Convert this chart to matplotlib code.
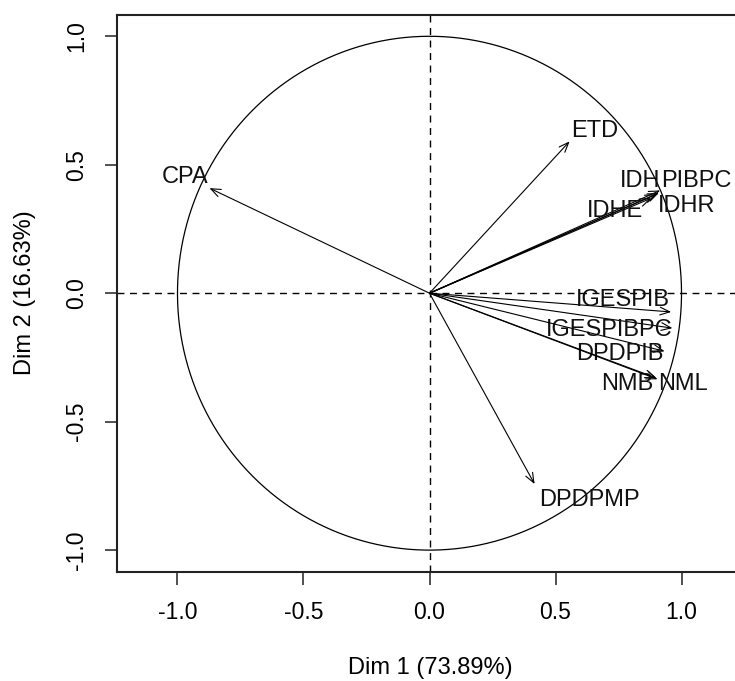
import numpy as np
import matplotlib
matplotlib.use("Agg")
import matplotlib.pyplot as plt

# Data: variable coordinates on Dim 1 / Dim 2
variables = ["CPA", "ETD", "IDH", "PIBPC", "IDHR", "IDHE",
             "IGESPIB", "IGESPIBPC", "DPDPIB", "NMB", "NML", "DPDPMP"]
dim1 = [-0.873, 0.556, 0.900, 0.915, 0.910, 0.880,
        0.959, 0.964, 0.933, 0.900, 0.905, 0.417]
dim2 = [0.409, 0.591, 0.385, 0.400, 0.390, 0.370,
        -0.073, -0.136, -0.226, -0.330, -0.335, -0.743]
ticks = [-1.0, -0.5, 0.0, 0.5, 1.0]
tick_labels = ["-1.0", "-0.5", "0.0", "0.5", "1.0"]
xlabel = "Dim 1 (73.89%)"
ylabel = "Dim 2 (16.63%)"

# label offsets (styling, in data units)
label_offsets = {
    "CPA": (-0.095, 0.042), "ETD": (0.099, 0.039), "IDH": (-0.063, 0.051),
    "PIBPC": (0.145, 0.036), "IDHR": (0.110, -0.051), "IDHE": (-0.142, -0.051),
    "IGESPIB": (-0.193, 0.046), "IGESPIBPC": (-0.250, -0.008),
    "DPDPIB": (-0.179, -0.011), "NMB": (-0.114, -0.024), "NML": (0.099, -0.019),
    "DPDPMP": (0.218, -0.062),
}

plt.rcParams['font.family'] = ['Liberation Sans', 'DejaVu Sans']
fs = 17
tfs = 16.5

fig = plt.figure(figsize=(7.35, 6.81), dpi=100)
ax = fig.add_axes([117 / 735, 109.3 / 681, (742 - 117) / 735, (666.3 - 109.3) / 681])
ax.set_xlim(-1.24, 1.24)
ax.set_ylim(-1.084, 1.084)

t = np.linspace(0, 2 * np.pi, 400)
ax.plot(np.cos(t), np.sin(t), color="black", lw=0.9)
ax.axhline(0, color="black", lw=1.0, ls=(0, (5, 4)))
ax.axvline(0, color="black", lw=1.0, ls=(0, (5, 4)))

for name, x, y in zip(variables, dim1, dim2):
    ax.annotate("", xy=(x, y), xytext=(0, 0),
                arrowprops=dict(arrowstyle="->,head_length=0.7,head_width=0.28",
                                color="black", lw=0.8, shrinkA=0, shrinkB=0))
    dx, dy = label_offsets[name]
    ax.text(x + dx, y + dy, name, fontsize=fs, color="#111111",
            ha="center", va="center")

ax.set_xticks(ticks)
ax.set_xticklabels(tick_labels, fontsize=tfs)
ax.set_yticks(ticks)
ax.set_yticklabels(tick_labels, fontsize=tfs, rotation=90, va="center")
ax.tick_params(length=9, width=1.2, pad=12, color="#333333")
for s in ax.spines.values():
    s.set_linewidth(1.5)
    s.set_color("#222222")

fig.text(430 / 735, 1 - 668 / 681, xlabel, fontsize=fs, ha="center", va="center")
fig.text(25 / 735, 1 - 293 / 681, ylabel, fontsize=fs, ha="center", va="center",
         rotation=90)

fig.savefig("out.png", dpi=100)
